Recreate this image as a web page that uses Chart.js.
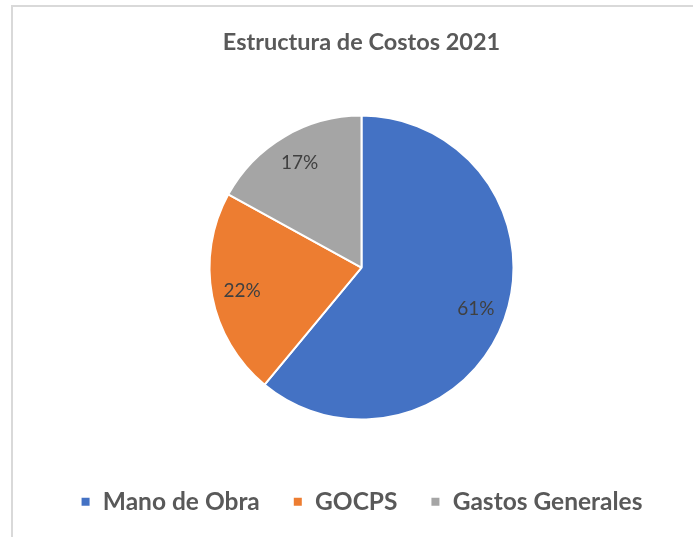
<!DOCTYPE html>
<html>
<head>
<meta charset="utf-8">
<script src="https://cdn.jsdelivr.net/npm/chart.js@4/dist/chart.umd.min.js"></script>
<style>
  html, body { margin: 0; padding: 0; background: #ffffff; }
  #wrap { position: relative; width: 693px; height: 537px; }
  canvas { display: block; }
</style>
</head>
<body>
<div id="wrap"><canvas id="c" width="693" height="537"></canvas></div>
<script>
const chartTitle = 'Estructura de Costos 2021';
const categories = ['Mano de Obra', 'GOCPS', 'Gastos Generales'];
const shares = [61, 22, 17];
const sliceColors = ['#4472C4', '#ED7D31', '#A5A5A5'];

const frameBorder = {
  id: 'frameBorder',
  beforeDraw(chart) {
    const ctx = chart.ctx;
    ctx.save();
    ctx.strokeStyle = '#D9D9D9';
    ctx.lineWidth = 2;
    ctx.beginPath();
    ctx.moveTo(12, chart.height + 5);
    ctx.lineTo(12, 6);
    ctx.lineTo(chart.width + 5, 6);
    ctx.stroke();
    ctx.restore();
  }
};

const sliceLabels = {
  id: 'sliceLabels',
  afterDatasetsDraw(chart) {
    const ctx = chart.ctx;
    const meta = chart.getDatasetMeta(0);
    const data = chart.data.datasets[0].data;
    const total = data.reduce((a, b) => a + b, 0);
    ctx.save();
    ctx.font = '19px Lato';
    ctx.fillStyle = '#404040';
    ctx.textAlign = 'center';
    ctx.textBaseline = 'middle';
    meta.data.forEach((arc, i) => {
      const p = arc.getProps(['x', 'y', 'startAngle', 'endAngle', 'outerRadius'], true);
      const mid = (p.startAngle + p.endAngle) / 2;
      const r = p.outerRadius * 0.8;
      const pct = Math.round(data[i] / total * 100) + '%';
      ctx.fillText(pct, p.x + Math.cos(mid) * r, p.y + Math.sin(mid) * r);
    });
    ctx.restore();
  }
};

new Chart(document.getElementById('c'), {
  type: 'pie',
  data: {
    labels: categories,
    datasets: [{
      data: shares,
      backgroundColor: sliceColors,
      borderColor: '#FFFFFF',
      borderWidth: 2,
      radius: 152
    }]
  },
  options: {
    responsive: false,
    animation: false,
    layout: { padding: { left: 30, right: 0, top: 0, bottom: 13 } },
    plugins: {
      title: {
        display: true,
        text: chartTitle,
        color: '#595959',
        font: { family: 'Lato', size: 23.5, weight: 'bold' },
        padding: { top: 28, bottom: 22.5 }
      },
      legend: {
        position: 'bottom',
        labels: {
          boxWidth: 10,
          boxHeight: 10,
          padding: 33,
          color: '#595959',
          font: { family: 'Lato', size: 24.5, weight: 'bold' }
        }
      },
      tooltip: { enabled: false }
    }
  },
  plugins: [frameBorder, sliceLabels]
});
</script>
</body>
</html>
